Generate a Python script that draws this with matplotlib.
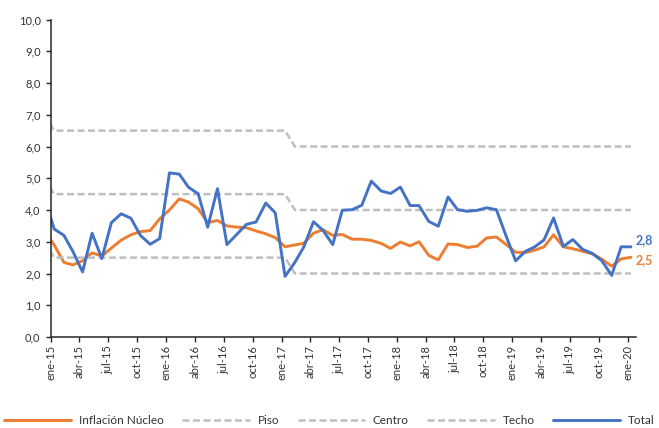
import numpy as np
import pandas as pd
import matplotlib
matplotlib.use("Agg")
import matplotlib.pyplot as plt

plt.rcParams['font.family'] = ['Lato', 'DejaVu Sans']

# ---- data (monthly, dic-14 .. ene-20) ----
nucleo = [3.35, 2.90, 2.35, 2.27, 2.40, 2.65, 2.55, 2.80, 3.05, 3.22, 3.32, 3.35, 3.72,
          4.00, 4.35, 4.25, 4.04, 3.60, 3.67, 3.50, 3.46, 3.44, 3.34, 3.25, 3.13,
          2.84, 2.90, 2.95, 3.27, 3.38, 3.20, 3.23, 3.08, 3.08, 3.04, 2.95, 2.79,
          2.99, 2.87, 3.00, 2.57, 2.43, 2.93, 2.91, 2.82, 2.86, 3.12, 3.15, 2.92,
          2.67, 2.66, 2.73, 2.84, 3.22, 2.84, 2.78, 2.70, 2.62, 2.45, 2.23, 2.46,
          2.51]
total = [4.40, 3.40, 3.20, 2.70, 2.05, 3.27, 2.47, 3.60, 3.88, 3.74, 3.20, 2.92, 3.10,
         5.17, 5.13, 4.72, 4.51, 3.46, 4.67, 2.91, 3.23, 3.55, 3.62, 4.22, 3.91,
         1.91, 2.35, 2.83, 3.63, 3.36, 2.91, 3.99, 4.01, 4.15, 4.91, 4.60, 4.52,
         4.72, 4.14, 4.14, 3.64, 3.49, 4.41, 4.01, 3.96, 3.99, 4.07, 4.01, 3.20,
         2.40, 2.70, 2.83, 3.06, 3.75, 2.85, 3.07, 2.76, 2.63, 2.40, 1.94, 2.84,
         2.84]
piso = [3.0] + [2.5] * 25 + [2.0] * 36
centro = [5.0] + [4.5] * 25 + [4.0] * 36
techo = [7.0] + [6.5] * 25 + [6.0] * 36

dates = pd.date_range("2014-12-01", periods=len(total), freq="MS") + pd.Timedelta(days=10)
tick_dates = pd.date_range("2015-01-01", "2020-01-01", freq="3MS")
mes = {1: "ene", 4: "abr", 7: "jul", 10: "oct"}
tick_labels = [f"{mes[d.month]}-{d.strftime('%y')}" for d in tick_dates]
yticks = np.arange(0, 11, 1)

orange = "#ED7D31"
blue = "#4472C4"
gray = "#BFBFBF"
axc = "#333333"

fig = plt.figure(figsize=(6.59, 4.28), dpi=100)
ax = fig.add_axes([51/659, 1-337/428, (636-51)/659, (337-19.5)/428])

dash = (0, (2.8, 1.4))
ax.plot(dates, nucleo, color=orange, lw=2.1, label="Inflación Núcleo", solid_capstyle='round')
ax.plot(dates, piso, color=gray, lw=1.8, ls=dash, label="Piso")
ax.plot(dates, centro, color=gray, lw=1.8, ls=dash, label="Centro")
ax.plot(dates, techo, color=gray, lw=1.8, ls=dash, label="Techo")
ax.plot(dates, total, color=blue, lw=2.1, label="Total", solid_capstyle='round')

ax.set_xlim(pd.Timestamp("2015-01-01"), pd.Timestamp("2020-01-27"))
ax.set_ylim(0, 10)
ax.set_yticks(yticks)
ax.set_yticklabels([f"{v:.1f}".replace(".", ",") for v in yticks])
ax.set_xticks(tick_dates)
ax.set_xticklabels(tick_labels, rotation=90)

for s in ["top", "right"]:
    ax.spines[s].set_visible(False)
for s in ["left", "bottom"]:
    ax.spines[s].set_color("#262626")
    ax.spines[s].set_linewidth(1.1)
ax.tick_params(axis="y", direction="out", length=3.5, width=1, color="#262626",
               labelsize=8, labelcolor=axc, pad=4)
ax.tick_params(axis="x", direction="out", length=3.5, width=1, color="#262626",
               labelsize=8, labelcolor=axc, pad=2)

# end labels
ax.annotate(f"{total[-1]:.1f}".replace(".", ","), xy=(dates[-1], total[-1]),
            xytext=(3, 5), textcoords="offset points", color=blue,
            fontsize=9, fontweight="bold", va="center", ha="left", annotation_clip=False)
ax.annotate(f"{nucleo[-1]:.1f}".replace(".", ","), xy=(dates[-1], nucleo[-1]),
            xytext=(3, -2), textcoords="offset points", color=orange,
            fontsize=9, fontweight="bold", va="center", ha="left", annotation_clip=False)

fig.legend(loc="center", bbox_to_anchor=(0.5, 7.5/428), ncol=5, frameon=False,
           fontsize=8.5, handlelength=5.7, handletextpad=0.68, columnspacing=1.55,
           labelcolor=axc)

fig.savefig("out.png", dpi=100)
